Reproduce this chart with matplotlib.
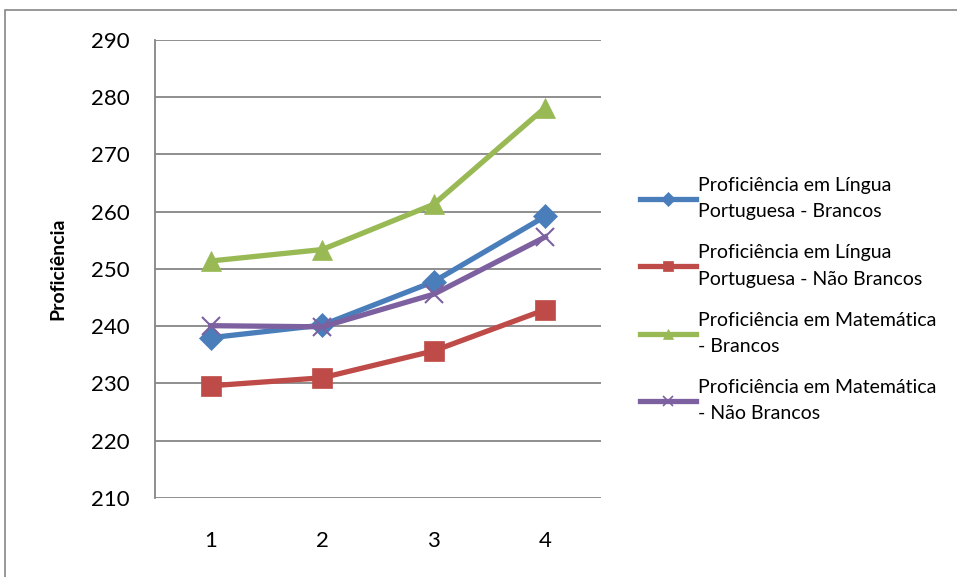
import matplotlib.pyplot as plt
from matplotlib.lines import Line2D
from matplotlib.patches import Rectangle

plt.rcParams['font.family'] = ['Lato', 'DejaVu Sans']

# data
series_x = [1, 2, 3, 4]
lp_brancos = [238.0, 240.2, 247.8, 259.2]
lp_nao_brancos = [229.6, 231.0, 235.7, 242.9]
mat_brancos = [251.4, 253.4, 261.3, 278.2]
mat_nao_brancos = [240.1, 239.9, 245.6, 255.6]
labels = ["Proficiência em Língua\nPortuguesa - Brancos",
          "Proficiência em Língua\nPortuguesa - Não Brancos",
          "Proficiência em Matemática\n- Brancos",
          "Proficiência em Matemática\n- Não Brancos"]
y_ticks = [210, 220, 230, 240, 250, 260, 270, 280, 290]

colors = ["#4A7EBB", "#BE4B48", "#98B954", "#7D60A0"]
markers = ["D", "s", "^", "x"]
msizes = [12, 14, 14, 13]

fig = plt.figure(figsize=(9.57, 5.77), dpi=100)
fig.patches.append(Rectangle((5 / 957, -0.01), 1.0, 1 - 10 / 577 + 0.01,
                             transform=fig.transFigure, fill=False,
                             edgecolor="#868686", linewidth=1.2))
ax = fig.add_axes([155 / 957, 79 / 577, 446 / 957, 458 / 577])

all_series = [lp_brancos, lp_nao_brancos, mat_brancos, mat_nao_brancos]
handles = []
for vals, c, m, ms, lab in zip(all_series, colors, markers, msizes, labels):
    ax.plot(series_x, vals, color=c, linewidth=3.8, marker=m, markersize=ms,
            markeredgewidth=1.5 if m == "x" else 0.5, markeredgecolor=c,
            solid_joinstyle="round")
    handles.append(Line2D([], [], color=c, linewidth=3.8, marker=m,
                          markersize=7, markeredgecolor=c,
                          markeredgewidth=1.2 if m == "x" else 0.5, label=lab))

ax.set_xlim(0.5, 4.5)
ax.set_ylim(210, 290)
ax.set_xticks(series_x)
ax.set_yticks(y_ticks)
ax.tick_params(axis="both", labelsize=16, length=0)
ax.tick_params(axis="y", pad=18)
ax.tick_params(axis="x", pad=24)
ax.yaxis.grid(True, color="#868686", linewidth=1.3)
ax.set_axisbelow(True)
for s in ["top", "right", "bottom"]:
    ax.spines[s].set_visible(False)
ax.spines["left"].set_color("#868686")
ax.spines["left"].set_linewidth(1.3)
ax.set_ylabel("Proficiência", fontsize=14, fontweight="bold", labelpad=18)

leg = fig.legend(handles=handles, loc="upper left",
                 bbox_to_anchor=(640 / 957, 1 - 177 / 577),
                 frameon=False, fontsize=14, handlelength=2.9, handletextpad=0.1,
                 labelspacing=1.25, borderaxespad=0, borderpad=0)
for t in leg.get_texts():
    t.set_linespacing(1.65)

fig.savefig("out.png", dpi=100)
